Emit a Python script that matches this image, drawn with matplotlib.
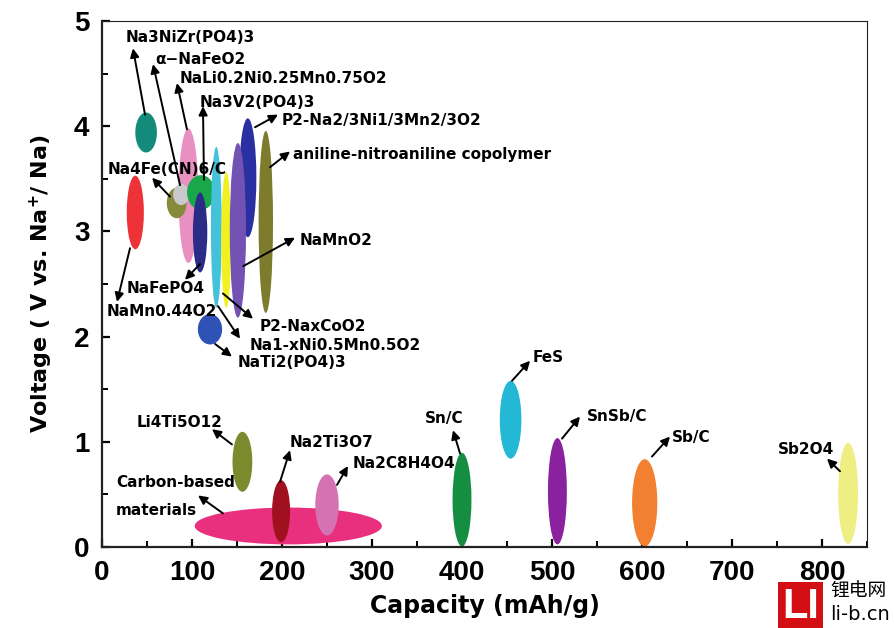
import matplotlib
matplotlib.use("Agg")
import matplotlib.pyplot as plt
from matplotlib.patches import Ellipse, Rectangle
from matplotlib.ticker import MultipleLocator

# ---------------- data ----------------
materials = [
    "Carbon-based materials", "Na2Ti3O7", "Na2C8H4O4", "Li4Ti5O12",
    "Sn/C", "FeS", "SnSb/C", "Sb/C", "Sb2O4",
    "NaTi2(PO4)3", "Na3NiZr(PO4)3", "NaMn0.44O2", "NaLi0.2Ni0.25Mn0.75O2",
    "Na4Fe(CN)6/C", "α-NaFeO2", "Na3V2(PO4)3", "NaFePO4",
    "Na1-xNi0.5Mn0.5O2", "P2-NaxCoO2", "P2-Na2/3Ni1/3Mn2/3O2", "NaMnO2",
    "aniline-nitroaniline copolymer",
]
# capacity centre and spread (mAh/g)
cap_center = [207, 199, 250, 156, 400, 454, 506, 603, 829,
              120, 49, 37, 96, 83, 88, 110, 109,
              127, 138, 162, 151, 182]
cap_span = [208, 20, 26, 22, 21, 24, 21, 28, 22,
            27, 24, 19, 22, 22, 18, 31, 16,
            12, 11, 19, 18, 16]
# voltage centre and spread (V vs Na+/Na)
volt_center = [0.20, 0.34, 0.40, 0.81, 0.45, 1.21, 0.53, 0.42, 0.51,
               2.07, 3.94, 3.18, 3.34, 3.27, 3.35, 3.37, 2.99,
               3.04, 2.92, 3.51, 3.01, 3.09]
volt_span = [0.35, 0.59, 0.58, 0.57, 0.89, 0.74, 1.01, 0.83, 0.96,
             0.29, 0.38, 0.70, 1.28, 0.29, 0.20, 0.33, 0.76,
             1.53, 1.29, 1.13, 1.66, 1.73]

x_ticks = [0, 100, 200, 300, 400, 500, 600, 700, 800]
y_ticks = [0, 1, 2, 3, 4, 5]

# ---------------- styles / layout ----------------
colors = {
    "Carbon-based materials": "#e8307e", "Na2Ti3O7": "#a1101e",
    "Na2C8H4O4": "#d472b2", "Li4Ti5O12": "#7a8a2c", "Sn/C": "#168e42",
    "FeS": "#22b8d6", "SnSb/C": "#8a22a0", "Sb/C": "#f28030",
    "Sb2O4": "#eeee82", "NaTi2(PO4)3": "#2f52b6", "Na3NiZr(PO4)3": "#138a7a",
    "NaMn0.44O2": "#ee3338", "NaLi0.2Ni0.25Mn0.75O2": "#e890c2",
    "Na4Fe(CN)6/C": "#868a3a", "α-NaFeO2": "#c9c9cd", "Na3V2(PO4)3": "#18a84a",
    "NaFePO4": "#2b2b88", "Na1-xNi0.5Mn0.5O2": "#44c2da",
    "P2-NaxCoO2": "#f2f020", "P2-Na2/3Ni1/3Mn2/3O2": "#2a30a2",
    "NaMnO2": "#7252b2", "aniline-nitroaniline copolymer": "#7c7c2c",
}
# draw order (later = on top)
draw_order = [
    "Carbon-based materials", "Na2Ti3O7", "Na2C8H4O4", "Li4Ti5O12",
    "Sn/C", "FeS", "SnSb/C", "Sb/C", "Sb2O4", "NaTi2(PO4)3",
    "Na3NiZr(PO4)3", "NaMn0.44O2", "NaLi0.2Ni0.25Mn0.75O2",
    "Na4Fe(CN)6/C", "α-NaFeO2", "Na3V2(PO4)3", "NaFePO4",
    "Na1-xNi0.5Mn0.5O2", "P2-NaxCoO2", "P2-Na2/3Ni1/3Mn2/3O2", "NaMnO2",
    "aniline-nitroaniline copolymer",
]
# label text, text anchor (left, centre), arrow tail, arrow head
labels = {
    "Na3NiZr(PO4)3": ("Na3NiZr(PO4)3", (26.7, 4.84), (47.8, 4.11), (34.4, 4.74)),
    "α-NaFeO2": ("α−NaFeO2", (58.9, 4.63), (86.7, 3.44), (56.7, 4.59)),
    "NaLi0.2Ni0.25Mn0.75O2": ("NaLi0.2Ni0.25Mn0.75O2", (86.7, 4.45), (94.4, 3.97), (83.3, 4.41)),
    "Na3V2(PO4)3": ("Na3V2(PO4)3", (108.9, 4.23), (113.3, 3.49), (112.2, 4.19)),
    "P2-Na2/3Ni1/3Mn2/3O2": ("P2-Na2/3Ni1/3Mn2/3O2", (200, 4.05), (170, 3.99), (195.6, 4.11)),
    "aniline-nitroaniline copolymer": ("aniline-nitroaniline copolymer", (212.2, 3.73), (186.7, 3.61), (208.9, 3.76)),
    "Na4Fe(CN)6/C": ("Na4Fe(CN)6/C", (6.7, 3.59), (75.6, 3.33), (55.6, 3.51)),
    "NaMnO2": ("NaMnO2", (220, 2.91), (157, 2.67), (214.4, 2.94)),
    "NaFePO4": ("NaFePO4", (27.8, 2.46), (108.9, 2.69), (92.2, 2.54)),
    "NaMn0.44O2": ("NaMn0.44O2", (5.6, 2.24), (31.1, 2.84), (16.7, 2.33)),
    "P2-NaxCoO2": ("P2-NaxCoO2", (175.6, 2.10), (134.4, 2.41), (167.8, 2.17)),
    "Na1-xNi0.5Mn0.5O2": ("Na1-xNi0.5Mn0.5O2", (164.4, 1.92), (128.9, 2.29), (153.3, 1.98)),
    "NaTi2(PO4)3": ("NaTi2(PO4)3", (151.1, 1.75), (125.6, 1.93), (144.4, 1.81)),
    "Li4Ti5O12": ("Li4Ti5O12", (38.9, 1.18), (144.4, 0.975), (122.2, 1.12)),
    "Na2Ti3O7": ("Na2Ti3O7", (208.9, 0.99), (197.8, 0.62), (208.9, 0.92)),
    "Na2C8H4O4": ("Na2C8H4O4", (278.9, 0.79), (261.1, 0.59), (273.3, 0.77)),
    "Carbon-based materials": ("Carbon-based\n\nmaterials", (15.6, 0.48), (134.4, 0.32), (106.7, 0.49)),
    "Sn/C": ("Sn/C", (358.9, 1.22), (397.8, 0.89), (390, 1.11)),
    "FeS": ("FeS", (478.9, 1.80), (455.6, 1.58), (475.6, 1.77)),
    "SnSb/C": ("SnSb/C", (538.9, 1.24), (511.1, 1.03), (531.1, 1.24)),
    "Sb/C": ("Sb/C", (633.3, 1.04), (611.1, 0.86), (631.1, 1.05)),
    "Sb2O4": ("Sb2O4", (751.1, 0.93), (820, 0.72), (805.6, 0.84)),
}

# ---------------- figure ----------------
plt.rcParams["mathtext.default"] = "bf"
fig = plt.figure(figsize=(8.94, 6.28), dpi=100)
ax = fig.add_axes([102 / 894, 1 - 547 / 628, (867 - 102) / 894, (547 - 21) / 628])
ax.set_xlim(0, 850)
ax.set_ylim(0, 5)

idx = {m: i for i, m in enumerate(materials)}
for z, m in enumerate(draw_order):
    i = idx[m]
    e = Ellipse((cap_center[i], volt_center[i]), cap_span[i], volt_span[i],
                facecolor=colors[m], edgecolor="none", zorder=2 + z * 0.01)
    ax.add_patch(e)

lab_font = dict(family="DejaVu Sans", weight="bold", size=11)
for m, (txt, tpos, tail, head) in labels.items():
    ax.text(tpos[0], tpos[1], txt, ha="left", va="center", zorder=5,
            linespacing=0.9, **lab_font)
    ax.annotate("", xy=head, xytext=tail, zorder=6,
                arrowprops=dict(arrowstyle="-|>", color="black", lw=1.4,
                                mutation_scale=13, shrinkA=0, shrinkB=0))

ax.set_xticks(x_ticks)
ax.set_yticks(y_ticks)
ax.xaxis.set_minor_locator(MultipleLocator(50))
ax.yaxis.set_minor_locator(MultipleLocator(0.5))
ax.tick_params(which="major", direction="in", length=6, width=1.6,
               top=False, right=False, pad=9)
ax.tick_params(which="minor", direction="in", length=4, width=1.4,
               top=False, right=False)
for lab in ax.get_xticklabels() + ax.get_yticklabels():
    lab.set_fontfamily("Liberation Sans")
    lab.set_fontweight("bold")
    lab.set_fontsize(20)
for sp in ax.spines.values():
    sp.set_linewidth(1.6)
    sp.set_color("#222222")
ax.spines["top"].set_linewidth(0.8)
ax.spines["right"].set_linewidth(0.8)

ax.set_xlabel("Capacity (mAh/g)", family="DejaVu Sans", weight="bold",
              size=17, labelpad=6)
ax.set_ylabel(r"Voltage ( V vs. Na$^{+}$/ Na)", family="DejaVu Sans",
              weight="bold", size=16, labelpad=14)

# watermark
fig.patches.append(Rectangle((778 / 894, 0), 45 / 894, 46 / 628,
                             transform=fig.transFigure, facecolor="#d40f14",
                             edgecolor="none", zorder=10))
fig.text(800.5 / 894, 21 / 628, "LI", color="white", ha="center", va="center",
         family="Liberation Sans", weight="bold", size=30, zorder=11)
fig.text(830 / 894, 1 - 591 / 628, "锂电网",
         family=["Noto Sans CJK SC", "DejaVu Sans"],
         ha="left", va="center", size=13.5, color="black", zorder=11)
fig.text(830 / 894, 1 - 614 / 628, "li-b.cn", family="DejaVu Sans",
         ha="left", va="center", size=14, color="black", zorder=11)

fig.savefig("out.png", dpi=100, facecolor="white")
